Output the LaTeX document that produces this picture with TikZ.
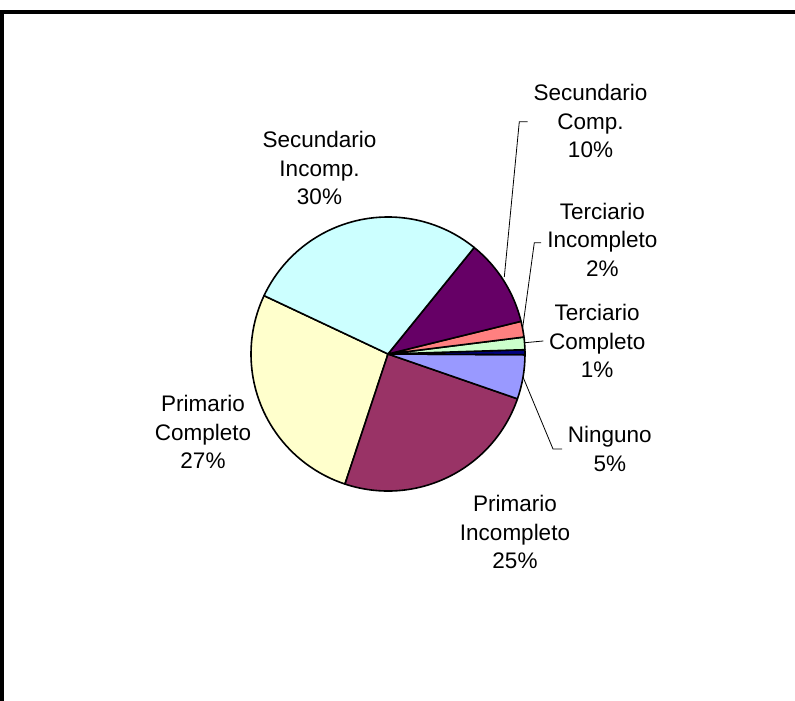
\documentclass[tikz,border=0pt]{standalone}
\usepackage{fontspec}
\setmainfont{Liberation Sans}
\definecolor{cSecInc}{HTML}{CCFFFF}
\definecolor{cSecComp}{HTML}{660066}
\definecolor{cTerInc}{HTML}{FF8080}
\definecolor{cTerComp}{HTML}{CCFFCC}
\definecolor{cOtro}{HTML}{000080}
\definecolor{cNing}{HTML}{9999FF}
\definecolor{cPriInc}{HTML}{993366}
\definecolor{cPriComp}{HTML}{FFFFCC}
\tikzset{
  slice/.style={draw=black, line width=1.6pt, line join=round},
  lbl/.style={anchor=north, inner sep=0pt, align=center, font=\fontsize{22.5}{28.5}\selectfont},
  leader/.style={draw=black, line width=0.8pt},
  frameline/.style={fill=black}
}
\newcommand{\pieslice}[3]{%
  \filldraw[slice, fill=#3] (C) -- ++(#1:137) arc[start angle=#1, end angle=#2, radius=137] -- cycle;}
\begin{document}
\begin{tikzpicture}[x=1pt,y=1pt]
\useasboundingbox (0,0) rectangle (795,701);
\fill[white] (0,0) rectangle (795,701);
% frame
\fill[frameline] (0,687) rectangle (795,691);
\fill[frameline] (0,0) rectangle (4,691);
% pie
\coordinate (C) at (388,347);
\pieslice{154.8}{251.7}{cPriComp}
\pieslice{-108.3}{-19.1}{cPriInc}
\pieslice{-19.1}{-0.3}{cNing}
\pieslice{-0.3}{1.8}{cOtro}
\pieslice{1.8}{7.1}{cTerComp}
\pieslice{7.1}{13.8}{cTerInc}
\pieslice{13.8}{51}{cSecComp}
\pieslice{51}{154.8}{cSecInc}
% labels
\node[lbl] (secinc) at (319.5,569.5) {Secundario\\Incomp.\\30\%};
\node[lbl] (seccomp) at (590.5,616.5) {Secundario\\Comp.\\10\%};
\node[lbl] (terinc) at (602.4,498.2) {Terciario\\Incompleto\\2\%};
\node[lbl] (tercomp) at (597.2,396.8) {Terciario\\Completo\\1\%};
\node[lbl] (ning) at (609.8,274.8) {Ninguno\\5\%};
\node[lbl] (pricomp) at (203,305.8) {Primario\\Completo\\27\%};
\node[lbl] (priinc) at (515,205.8) {Primario\\Incompleto\\25\%};
% leader lines
\coordinate (scA) at (504.3,424);
\coordinate (scB) at (519.3,579.3);
\coordinate (scC) at (527.7,579.3);
\coordinate (tiA) at (522.5,372);
\coordinate (tiB) at (534.3,458.3);
\coordinate (tiC) at (541,458.3);
\coordinate (tcA) at (525,358.3);
\coordinate (tcB) at (543.3,360);
\coordinate (nA) at (523,324);
\coordinate (nB) at (553,252);
\coordinate (nC) at (562,252);
\draw[leader] (scA) -- (scB) -- (scC);
\draw[leader] (tiA) -- (tiB) -- (tiC);
\draw[leader] (tcA) -- (tcB);
\draw[leader] (nA) -- (nB) -- (nC);
\end{tikzpicture}
\end{document}
